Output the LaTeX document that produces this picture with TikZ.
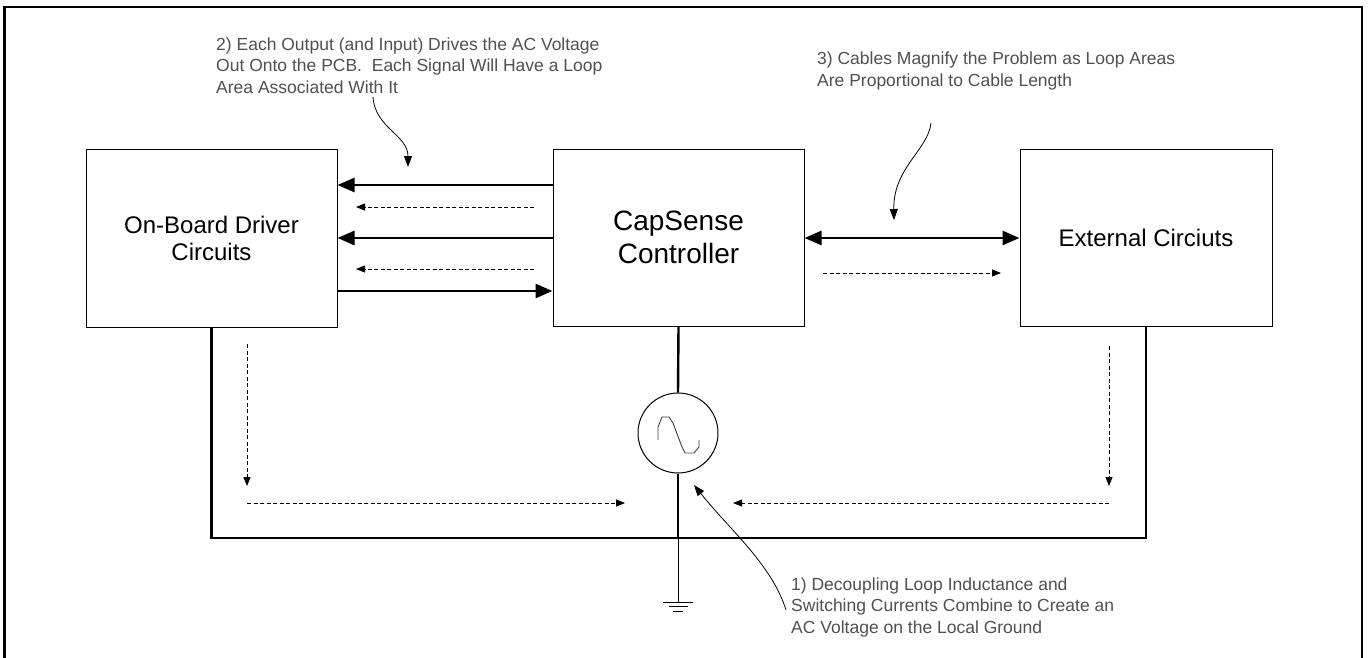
\documentclass[tikz,border=0pt]{standalone}
\usepackage{fontspec}
\setmainfont{Liberation Sans}
\usetikzlibrary{arrows.meta,calc}
\definecolor{lbl}{RGB}{80,80,80}
\tikzset{
  blk/.style={draw=black, line width=1pt, rectangle, inner sep=0pt, align=center, text=black},
  bus/.style={line width=2.8pt, -{Triangle[length=17pt,width=14pt]}},
  bidir/.style={line width=2.8pt, {Triangle[length=17pt,width=14pt]}-{Triangle[length=17pt,width=14pt]}},
  flow/.style={line width=0.8pt, dash pattern=on 4pt off 2.5pt, -{Triangle[length=9pt,width=7pt]}},
  gndline/.style={line width=2.4pt},
  note/.style={font=\fontsize{17.5}{21.5}\selectfont, text=lbl, align=left, anchor=base west, inner sep=0pt},
  pointer/.style={line width=0.8pt, -{Triangle[length=11pt,width=8pt]}}
}
\begin{document}
\begin{tikzpicture}[x=1pt,y=-1pt]
\useasboundingbox (0,0) rectangle (1368,657);
% outer frame (open at bottom)
\draw[line width=2.2pt] (4.5,680) -- (4.5,7) -- (1362,7) -- (1362,680);

% blocks
\node[blk, minimum width=251pt, minimum height=178pt, font=\fontsize{24}{27}\selectfont]
  (drv) at (211.5,238) {On-Board Driver\\Circuits};
\node[blk, minimum width=251pt, minimum height=177pt, font=\fontsize{28}{33}\selectfont]
  (cap) at (678.5,237.5) {CapSense\\Controller};
\node[blk, minimum width=252pt, minimum height=177pt, font=\fontsize{24}{27}\selectfont]
  (ext) at (1146,237.5) {External Circiuts};

% AC source
\node[draw, circle, line width=1pt, minimum size=80pt, inner sep=0pt] (src) at (678,433) {};
\draw[line width=0.9pt, black!75] (658,440) -- (658,427) -- (662,417) -- (669,417) -- (673,423)
  -- (682,447) -- (685,453) -- (694,453) -- (699,447) -- (699,440);

% ground return
\coordinate (gl) at (drv.south |- 0,538);
\coordinate (gr) at (ext.south |- 0,538);
\coordinate (gm) at (678,538);
\coordinate (gnd) at (678,602);
\draw[gndline] (drv.south) -- (gl) -- (gr) -- (ext.south);
\draw[gndline] (cap.south) -- (src.north);
\draw[gndline] (src.south) -- (gm);
\draw[line width=1pt] (gm) -- (gnd);
\draw[line width=1pt] ($(gnd)+(-15,0)$) -- ($(gnd)+(15,0)$);
\draw[line width=1pt] ($(gnd)+(-9.5,4.5)$) -- ($(gnd)+(9.5,4.5)$);
\draw[line width=1pt] ($(gnd)+(-5,9)$) -- ($(gnd)+(5,9)$);

% signal buses
\draw[bus] (cap.west |- 0,185) -- (drv.east |- 0,185);
\draw[bus] (cap.west |- 0,238) -- (drv.east |- 0,238);
\draw[bus] (drv.east |- 0,291) -- (cap.west |- 0,291);
\draw[bidir] (cap.east |- 0,238) -- (ext.west |- 0,238);

% current flow (dashed)
\coordinate (d1s) at (534,207); \coordinate (d1e) at (356,207);
\coordinate (d2s) at (534,269); \coordinate (d2e) at (356,269);
\coordinate (d3s) at (823,273); \coordinate (d3e) at (1001,273);
\coordinate (d4s) at (247,344); \coordinate (d4e) at (247,486);
\coordinate (d5s) at (247,503); \coordinate (d5e) at (625,503);
\coordinate (d6s) at (1109,346); \coordinate (d6e) at (1109,486);
\coordinate (d7s) at (1109,503); \coordinate (d7e) at (733,503);
\draw[flow] (d1s) -- (d1e);
\draw[flow] (d2s) -- (d2e);
\draw[flow] (d3s) -- (d3e);
\draw[flow] (d4s) -- (d4e);
\draw[flow] (d5s) -- (d5e);
\draw[flow] (d6s) -- (d6e);
\draw[flow] (d7s) -- (d7e);

% notes (anchor = baseline of last line)
\node[note] (n2) at (216,93) {2) Each Output (and Input) Drives the AC Voltage\\Out Onto the PCB.\ \ Each Signal Will Have a Loop\\Area Associated With It};
\node[note] (n3) at (817,86) {3) Cables Magnify the Problem as Loop Areas\\Are Proportional to Cable Length};
\node[note] (n1) at (791,633) {1) Decoupling Loop Inductance and\\Switching Currents Combine to Create an\\AC Voltage on the Local Ground};

\coordinate (p2s) at (373,97);  \coordinate (p2e) at (408,167);
\coordinate (p3s) at (931,123); \coordinate (p3e) at (894,220);
\coordinate (p1s) at (786,610); \coordinate (p1e) at (694,485);
\draw[pointer] (p2s) .. controls (375,128) and (408,135) .. (p2e);
\draw[pointer] (p3s) .. controls (928,150) and (893,168) .. (p3e);
\draw[pointer] (p1s) .. controls (772,565) and (730,530) .. (p1e);
\end{tikzpicture}
\end{document}
